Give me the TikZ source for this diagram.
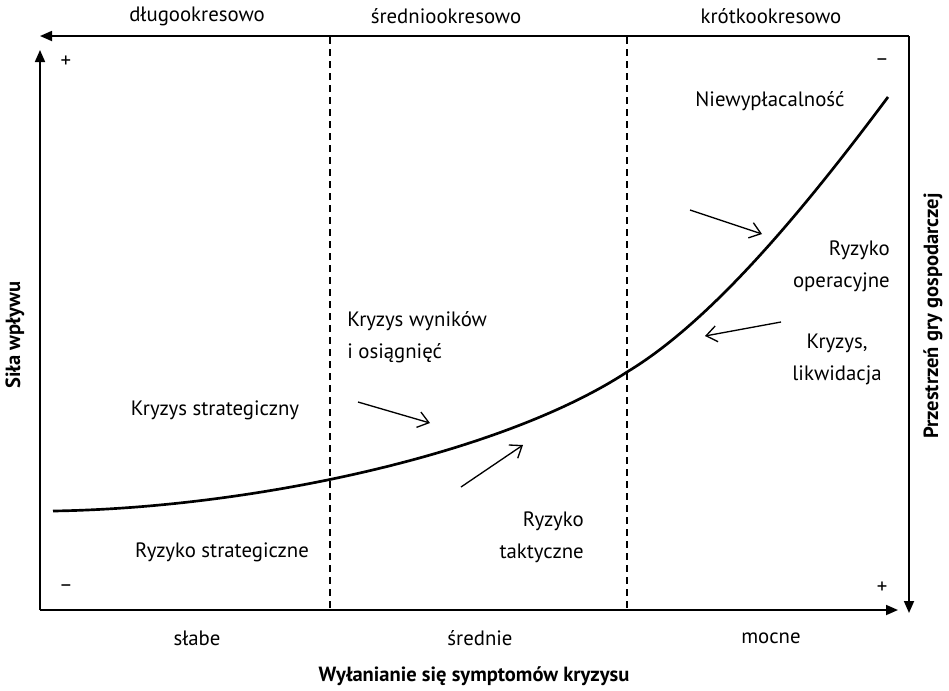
\documentclass[tikz,border=0pt]{standalone}
\usepackage{fontspec}
\setmainfont{PT Sans}
\usetikzlibrary{arrows.meta}
\begin{document}
\begin{tikzpicture}[x=0.75pt,y=-0.75pt,
  lbl/.style={inner sep=0pt,font=\fontsize{15.6}{24}\selectfont},
  ttl/.style={inner sep=0pt,font=\fontsize{15.4}{18}\selectfont\bfseries},
  axis/.style={line width=1.3pt,-{Triangle[length=9pt,width=7.5pt]}},
  divider/.style={line width=0.9pt,dash pattern=on 5pt off 4pt},
  trend/.style={line width=2pt},
  hint/.style={line width=1pt,-{Straight Barb[length=8pt,width=12pt,line width=1pt]}}]
\useasboundingbox (0,0) rectangle (949,690);

% frame corners
\coordinate (tl) at (40,36);
\coordinate (tr) at (909,36);
\coordinate (bl) at (40,610);
\coordinate (ytip) at (40,50);
\coordinate (xtip) at (898,610);
\coordinate (rtip) at (909,613);

% axes
\draw[axis] (tr) -- (tl);
\draw[axis] (bl) -- (ytip);
\draw[axis] (bl) -- (xtip);
\draw[axis] (tr) -- (rtip);

% time horizon dividers
\coordinate (d1t) at (330,37);
\coordinate (d1b) at (330,609);
\coordinate (d2t) at (627,37);
\coordinate (d2b) at (627,609);
\draw[divider] (d1t) -- (d1b);
\draw[divider] (d2t) -- (d2b);

% crisis curve
\coordinate (c0) at (53,511);
\coordinate (c1) at (627,372);
\coordinate (c2) at (888,97);
\draw[trend] (c0) .. controls (250,508) and (500,455) .. (c1)
                  .. controls (710,322) and (800,215) .. (c2);

% hint arrows
\coordinate (a1s) at (358,402); \coordinate (a1e) at (430,423);
\coordinate (a2s) at (461,487); \coordinate (a2e) at (523,445);
\coordinate (a3s) at (690,210); \coordinate (a3e) at (762,234);
\coordinate (a4s) at (781,322); \coordinate (a4e) at (705,336);
\draw[hint] (a1s) -- (a1e);
\draw[hint] (a2s) -- (a2e);
\draw[hint] (a3s) -- (a3e);
\draw[hint] (a4s) -- (a4e);

% horizon labels
\node[lbl] (dlugo) at (197,16) {długookresowo};
\node[lbl] (srednio) at (446,16) {średniookresowo};
\node[lbl] (krotko) at (771,16) {krótkookresowo};

% symptom strength labels
\node[lbl] (slabe) at (197,638) {słabe};
\node[lbl] (srednie) at (480,638) {średnie};
\node[lbl] (mocne) at (771,638) {mocne};

% axis titles
\node[ttl] (xtitle) at (474,676) {Wyłanianie się symptomów kryzysu};
\node[ttl,rotate=90] (ytitle) at (15,335) {Siła wpływu};
\node[ttl,rotate=90] (rtitle) at (933,316) {Przestrzeń gry gospodarczej};

% signs
\node[lbl] (p1) at (66,62) {+};
\node[lbl] (m1) at (882,62) {–};
\node[lbl] (m2) at (66,588) {–};
\node[lbl] (p2) at (882,588) {+};

% region labels
\node[lbl] (niew) at (770,101) {Niewypłacalność};
\node[lbl,align=right,anchor=east] (ryop) at (890,266) {Ryzyko\\operacyjne};
\node[lbl,align=center] (kryl) at (837,359) {Kryzys,\\likwidacja};
\node[lbl,align=left,anchor=west] (kwyn) at (347,337) {Kryzys wyników\\i osiągnięć};
\node[lbl] (kstr) at (215,410) {Kryzys strategiczny};
\node[lbl,align=right,anchor=east] (rtak) at (584,537) {Ryzyko\\taktyczne};
\node[lbl] (rstr) at (222,552) {Ryzyko strategiczne};
\end{tikzpicture}
\end{document}
